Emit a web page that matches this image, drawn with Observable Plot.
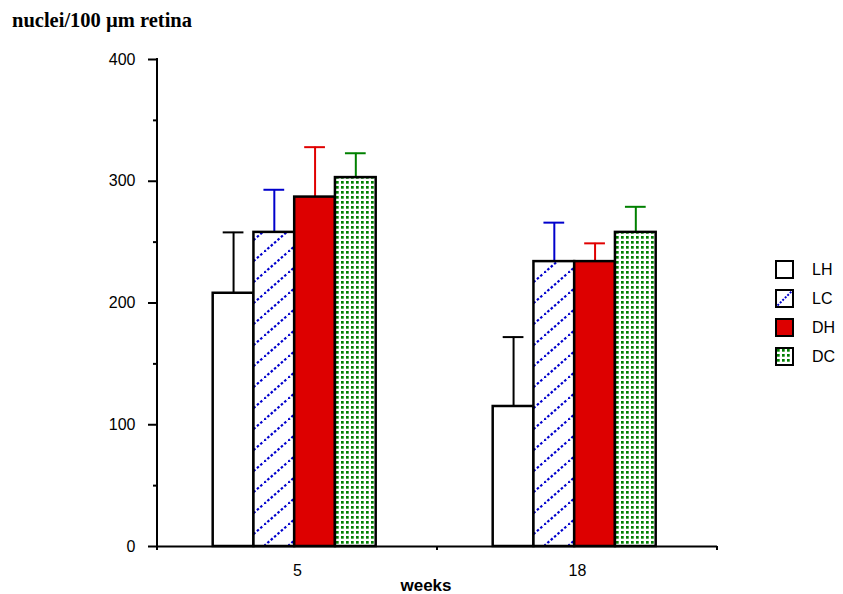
<!DOCTYPE html>
<html>
<head>
<meta charset="utf-8">
<script src="https://cdn.jsdelivr.net/npm/d3@7"></script>
<script src="https://cdn.jsdelivr.net/npm/@observablehq/plot@0.6"></script>
<style>
  body { margin: 0; background: #fff; }
  svg { display: block; }
</style>
</head>
<body>
<div id="chart"></div>
<script>
// Retinal nuclei counts by age (weeks) and group
const weeks = ["5", "18"];
const groups = ["LH", "LC", "DH", "DC"];
const means5 = [208, 258, 287, 303];
const sd5 = [50, 35, 41, 20];
const means18 = [115, 234, 234, 258];
const sd18 = [57, 32, 15, 21];
const yTicks = [0, 100, 200, 300, 400];
const yMinorTicks = [50, 150, 250, 350];

const fills = ["white", "url(#hatch-lc)", "#dd0000", "url(#dots-dc)"];
const errColors = ["black", "#0000cc", "#e00000", "#008000"];

const rows = weeks.flatMap((w, i) =>
  groups.map((g, j) => ({
    week: w,
    group: g,
    mean: (i === 0 ? means5 : means18)[j],
    sd: (i === 0 ? sd5 : sd18)[j]
  }))
);

const errRules = groups.map((g, j) =>
  Plot.ruleX(rows.filter(d => d.group === g), {
    fx: "week", x: "group", y1: "mean", y2: d => d.mean + d.sd,
    stroke: errColors[j], strokeWidth: 2
  })
);
const errCaps = groups.map((g, j) =>
  Plot.tickY(rows.filter(d => d.group === g), {
    fx: "week", x: "group", y: d => d.mean + d.sd,
    stroke: errColors[j], strokeWidth: 2, insetLeft: 10, insetRight: 10
  })
);

const chart = Plot.plot({
  width: 843,
  height: 594,
  marginLeft: 157,
  marginRight: 126,
  marginTop: 59,
  marginBottom: 48,
  style: { fontFamily: "'Liberation Sans', Arial, Helvetica, sans-serif", color: "black", background: "white" },
  fx: { domain: weeks, padding: 0, round: false },
  x: { domain: groups, paddingInner: 0, paddingOuter: 1.4356, align: 0.476, round: false, axis: null },
  y: { domain: [0, 400] },
  color: { type: "ordinal", domain: groups, range: fills },
  marks: [
    ...errRules,
    ...errCaps,
    Plot.barY(rows, { fx: "week", x: "group", y: "mean", fill: "group", stroke: "black", strokeWidth: 2.5 }),
    Plot.ruleY([0], { strokeWidth: 2 }),
    Plot.axisY(yTicks, { tickSize: 9, tickPadding: 13, fontSize: 16, strokeWidth: 2, label: null }),
    Plot.axisY(yMinorTicks, { tickSize: 4, strokeWidth: 2, tickFormat: () => "", label: null }),
    Plot.axisFx({ anchor: "bottom", tickSize: 0, tickPadding: 18, fontSize: 16, label: null })
  ]
});

document.getElementById("chart").append(chart);

// Fill patterns, axis lines, labels and legend
const svg = d3.select(chart);
const defs = svg.insert("defs", ":first-child");

const hatch = defs.append("pattern")
  .attr("id", "hatch-lc").attr("patternUnits", "userSpaceOnUse")
  .attr("width", 24).attr("height", 21);
hatch.append("rect").attr("width", 24).attr("height", 21).attr("fill", "white");
hatch.append("line")
  .attr("x1", 0).attr("y1", 21).attr("x2", 24).attr("y2", 0)
  .attr("stroke", "#0000cc").attr("stroke-width", 2.2).attr("stroke-dasharray", "2.5 2");

const dots = defs.append("pattern")
  .attr("id", "dots-dc").attr("patternUnits", "userSpaceOnUse")
  .attr("width", 5).attr("height", 5);
dots.append("rect").attr("width", 5).attr("height", 5).attr("fill", "white");
dots.append("rect").attr("x", 1).attr("y", 1).attr("width", 2.7).attr("height", 2.7).attr("fill", "#008000");

const yScale = chart.scale("y");
const fxScale = chart.scale("fx");
const x0 = fxScale.apply(weeks[0]);
const xEnd = fxScale.apply(weeks[weeks.length - 1]) + fxScale.bandwidth;
const yBase = yScale.apply(0);

// y axis line
svg.append("line")
  .attr("x1", x0).attr("x2", x0)
  .attr("y1", yScale.apply(400) - 1).attr("y2", yBase + 4)
  .attr("stroke", "black").attr("stroke-width", 2);

// category boundary ticks on the x axis
const bounds = weeks.map(w => fxScale.apply(w)).concat([xEnd]);
svg.append("g").selectAll("line").data(bounds.slice(1)).join("line")
  .attr("x1", d => d).attr("x2", d => d)
  .attr("y1", yBase).attr("y2", yBase + 4)
  .attr("stroke", "black").attr("stroke-width", 2);

// title
svg.append("text")
  .attr("x", 12).attr("y", 27)
  .attr("text-anchor", "start")
  .attr("font-family", "'Liberation Serif', 'Times New Roman', serif")
  .attr("font-weight", "bold").attr("font-size", 20.5)
  .text("nuclei/100 µm retina");

// x axis title
svg.append("text")
  .attr("x", 426).attr("y", 591)
  .attr("text-anchor", "middle")
  .attr("font-weight", "bold").attr("font-size", 17)
  .text("weeks");

// legend
const legend = svg.append("g").attr("transform", "translate(776,261)");
groups.forEach((g, j) => {
  const item = legend.append("g").attr("transform", `translate(0,${j * 29})`);
  item.append("rect")
    .attr("width", 17).attr("height", 17)
    .attr("fill", g === "LC" ? "white" : g === "DC" ? "url(#dots-dc)" : fills[j])
    .attr("stroke", "black").attr("stroke-width", 2);
  if (g === "LC") {
    item.append("line")
      .attr("x1", 1.5).attr("y1", 15.5).attr("x2", 15.5).attr("y2", 1.5)
      .attr("stroke", "#0000cc").attr("stroke-width", 2).attr("stroke-dasharray", "2 1.5");
  }
  item.append("text")
    .attr("x", 36).attr("y", 8.5).attr("dy", "0.35em")
    .attr("text-anchor", "start")
    .attr("font-size", 16)
    .text(g);
});
</script>
</body>
</html>
